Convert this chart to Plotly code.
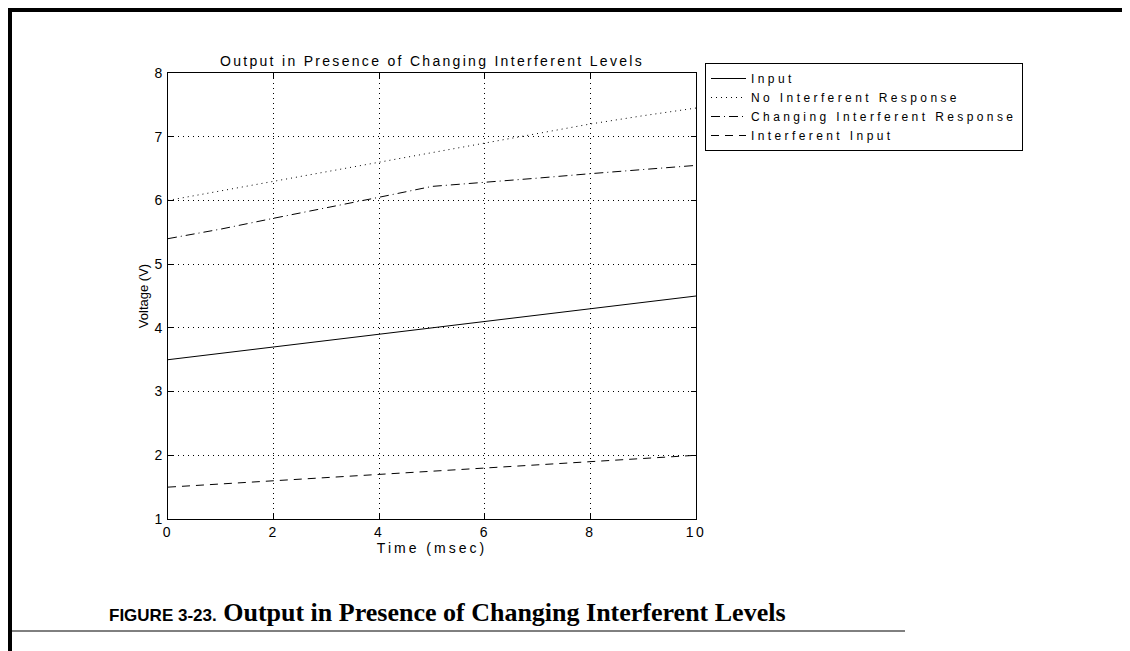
import plotly.graph_objects as go

time_ms = [0, 1, 2, 3, 4, 5, 6, 7, 8, 9, 10]
input_v = [3.5, 3.6, 3.7, 3.8, 3.9, 4.0, 4.1, 4.2, 4.3, 4.4, 4.5]
no_interf_resp = [6.0, 6.15, 6.3, 6.45, 6.6, 6.75, 6.9, 7.05, 7.2, 7.33, 7.45]
changing_interf_resp = [5.4, 5.55, 5.72, 5.88, 6.05, 6.22, 6.28, 6.35, 6.42, 6.48, 6.55]
interf_input = [1.5, 1.55, 1.6, 1.65, 1.7, 1.75, 1.8, 1.85, 1.9, 1.95, 2.0]

series_names = ["Input", "No Interferent Response", "Changing Interferent Response", "Interferent Input"]
x_ticks = [0, 2, 4, 6, 8, 10]
y_ticks = [1, 2, 3, 4, 5, 6, 7, 8]
chart_title = "Output in Presence of Changing Interferent Levels"
x_title = "Time (msec)"
y_title = "Voltage (V)"
caption_label = "FIGURE 3-23."
caption_text = "Output in Presence of Changing Interferent Levels"

W, H = 1130, 651
L, R, T, B = 160, 442, 65, 140
pw, ph = W - L - R, H - T - B

def px_to_paper_x(px):
    return (px - L) / pw

def px_to_paper_y(py):
    return (H - B - py) / ph

def spaced(s, ls):
    return f'<span style="letter-spacing:{ls}px">{s}</span>'

font = "Liberation Sans, Arial, Helvetica, sans-serif"

fig = go.Figure()
styles = [
    dict(color="black", width=1, dash="solid"),
    dict(color="black", width=1, dash="1px,4px"),
    dict(color="black", width=1, dash="9px,4px,1px,4px"),
    dict(color="black", width=1, dash="8px,6px"),
]
for name, ys, st in zip(series_names, [input_v, no_interf_resp, changing_interf_resp, interf_input], styles):
    fig.add_trace(go.Scatter(x=time_ms, y=ys, mode="lines", name=spaced(name, 3.4), line=st))

axis_common = dict(
    showline=True, linecolor="black", linewidth=1, mirror="ticks",
    ticks="inside", ticklen=5, tickcolor="black",
    showgrid=True, gridcolor="black", griddash="1px,4px", gridwidth=1,
    zeroline=False, tickfont=dict(family=font, size=14, color="black"),
)
fig.update_xaxes(range=[0, 10], tickvals=x_ticks, ticktext=[spaced(str(v), 2.5) for v in x_ticks],
                 **axis_common,
                 title=dict(text=spaced(x_title, 3.0), font=dict(family=font, size=14, color="black"), standoff=0))
fig.update_yaxes(range=[1, 8], tickvals=y_ticks, ticktext=[str(v) for v in y_ticks],
                 ticklabelstandoff=2, **axis_common,
                 title=dict(text=y_title, font=dict(family=font, size=13, color="black"), standoff=2))

fig.update_layout(
    width=W, height=H,
    margin=dict(l=L, r=R, t=T, b=B),
    paper_bgcolor="white", plot_bgcolor="white",
    title=dict(text=spaced(chart_title, 2.3),
               font=dict(family=font, size=14, color="black"),
               x=0.5, xanchor="center", xref="paper", y=1, yref="paper", yanchor="bottom", pad=dict(b=7)),
    legend=dict(x=px_to_paper_x(697), y=px_to_paper_y(55), xanchor="left", yanchor="top",
                bordercolor="black", borderwidth=1, bgcolor="white",
                font=dict(family=font, size=12, color="black"), tracegroupgap=0,
                itemwidth=35),
    showlegend=True,
)

# Page frame borders
fig.add_shape(type="line", xref="paper", yref="paper",
              x0=px_to_paper_x(0), x1=px_to_paper_x(W), y0=px_to_paper_y(2), y1=px_to_paper_y(2),
              line=dict(color="black", width=4))
fig.add_shape(type="line", xref="paper", yref="paper",
              x0=px_to_paper_x(2), x1=px_to_paper_x(2), y0=px_to_paper_y(0), y1=px_to_paper_y(H),
              line=dict(color="black", width=4))
# Caption rule
fig.add_shape(type="line", xref="paper", yref="paper",
              x0=px_to_paper_x(0), x1=px_to_paper_x(897), y0=px_to_paper_y(623), y1=px_to_paper_y(623),
              line=dict(color="black", width=1))
# Caption
fig.add_annotation(xref="paper", yref="paper", x=px_to_paper_x(99), y=px_to_paper_y(604),
                   xanchor="left", yanchor="middle", showarrow=False,
                   text=f"<b><span style=\"font-family:'Liberation Sans', Arial; font-size:17px\">{caption_label}</span></b>"
                        f"&nbsp;<b>{caption_text}</b>",
                   font=dict(family="Liberation Serif, Times New Roman, serif", size=26, color="black"))

fig.write_html("out.html")
